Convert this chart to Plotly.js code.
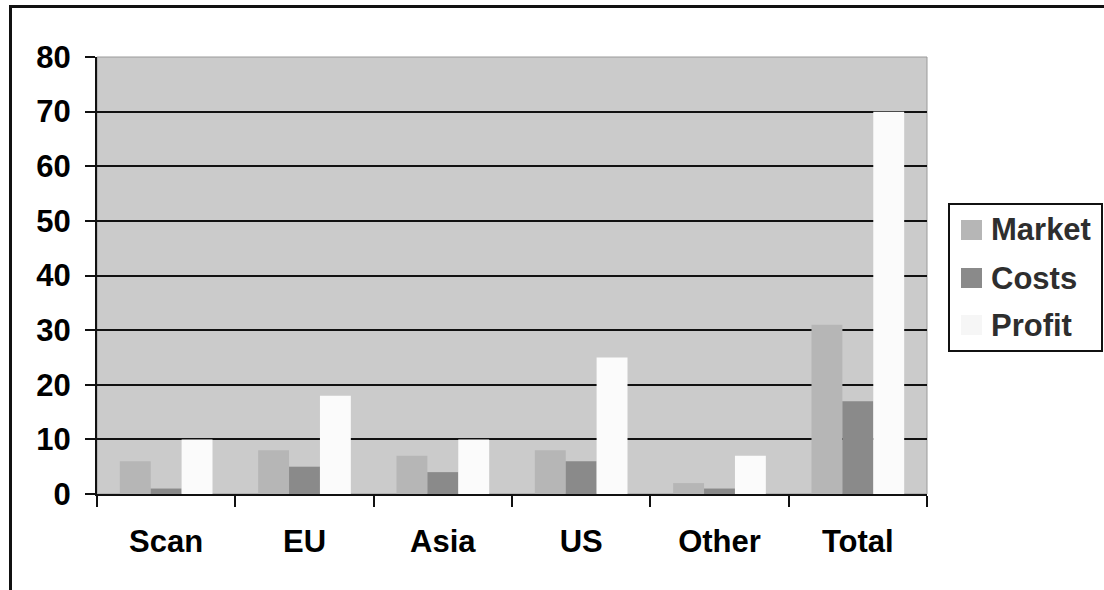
<!DOCTYPE html>
<html>
<head>
<meta charset="utf-8">
<script src="https://cdn.plot.ly/plotly-3.0.1.min.js"></script>
<style>
  html, body { margin: 0; padding: 0; background: #ffffff; }
  #wrap { position: relative; width: 1104px; height: 590px; overflow: hidden; }
  #frame { position: absolute; left: 9px; top: 5px; width: 1200px; height: 700px;
           border-left: 3px solid #111; border-top: 3px solid #111; }
  #chart { position: absolute; left: 0; top: 0; width: 1104px; height: 590px; }
</style>
</head>
<body>
<div id="wrap">
  <div id="frame"></div>
  <div id="chart"></div>
</div>
<script>
// Regions on the category axis
const regions = ["Scan", "EU", "Asia", "US", "Other", "Total"];

// Series values per region
const market = [6, 8, 7, 8, 2, 31];
const costs  = [1, 5, 4, 6, 1, 17];
const profit = [10, 18, 10, 25, 7, 70];

const yTicks = [0, 10, 20, 30, 40, 50, 60, 70, 80];

const seriesNames = ["Market", "Costs", "Profit"];
const seriesValues = [market, costs, profit];
const seriesColors = ["#b6b6b6", "#8a8a8a", "#fbfbfb"];

const W = 1104, H = 590;
const M = { l: 97, r: 177, t: 57, b: 96 };
const plotW = W - M.l - M.r, plotH = H - M.t - M.b;
// page pixel -> paper fraction helpers for the hand-built legend
const px = v => (v - M.l) / plotW;
const py = v => (H - M.b - v) / plotH;

const font = { family: "Liberation Sans, Arial, sans-serif", weight: "bold", color: "#000000", size: 31 };

const traces = seriesNames.map((name, i) => ({
  type: "bar",
  name: name,
  x: regions,
  y: seriesValues[i],
  marker: { color: seriesColors[i], line: { width: 0 } },
  hoverinfo: "x+y+name"
}));

// Legend: framed box with square swatches and labels
const legendBox = { x0: 949, x1: 1102, y0: 204, y1: 351 };
const rowY = [230, 278, 325];
const shapes = [
  { type: "rect", xref: "paper", yref: "paper", x0: 0, x1: 1, y0: 0, y1: 1,
    line: { color: "#9a9a9a", width: 1 }, fillcolor: "rgba(0,0,0,0)", layer: "below" },
  { type: "rect", xref: "paper", yref: "paper",
    x0: px(legendBox.x0), x1: px(legendBox.x1), y0: py(legendBox.y1), y1: py(legendBox.y0),
    line: { color: "#111111", width: 2 }, fillcolor: "#ffffff" }
];
const annotations = [];
seriesNames.forEach((name, i) => {
  shapes.push({ type: "rect", xref: "paper", yref: "paper",
    x0: px(961), x1: px(982), y0: py(rowY[i] + 10), y1: py(rowY[i] - 10),
    line: { width: 0 }, fillcolor: i === 2 ? "#f6f6f6" : seriesColors[i] });
  annotations.push({ xref: "paper", yref: "paper", x: px(989), y: py(rowY[i]),
    xanchor: "left", yanchor: "middle", text: name, showarrow: false,
    font: { family: font.family, weight: "bold", size: 31, color: "#2e2e2e" } });
});

const layout = {
  width: W,
  height: H,
  margin: M,
  paper_bgcolor: "rgba(0,0,0,0)",
  plot_bgcolor: "#cbcbcb",
  barmode: "group",
  bargap: 0.33,
  bargroupgap: 0,
  font: font,
  showlegend: false,
  xaxis: {
    type: "category",
    showline: true,
    linecolor: "#111111",
    linewidth: 2,
    ticks: "outside",
    tickson: "boundaries",
    ticklen: 11,
    tickwidth: 2,
    tickcolor: "#111111",
    ticklabelstandoff: 19,
    showgrid: false,
    zeroline: false,
    tickfont: font,
    fixedrange: true
  },
  yaxis: {
    range: [0, 80],
    tickvals: yTicks,
    ticktext: yTicks.map(String),
    showline: true,
    linecolor: "#111111",
    linewidth: 2,
    ticks: "outside",
    ticklen: 10,
    tickwidth: 2,
    tickcolor: "#111111",
    ticklabelstandoff: 8,
    showgrid: true,
    gridcolor: "#111111",
    gridwidth: 2,
    zeroline: false,
    tickfont: font,
    fixedrange: true
  },
  shapes: shapes,
  annotations: annotations
};

Plotly.newPlot("chart", traces, layout, { displayModeBar: false, staticPlot: true });
</script>
</body>
</html>
